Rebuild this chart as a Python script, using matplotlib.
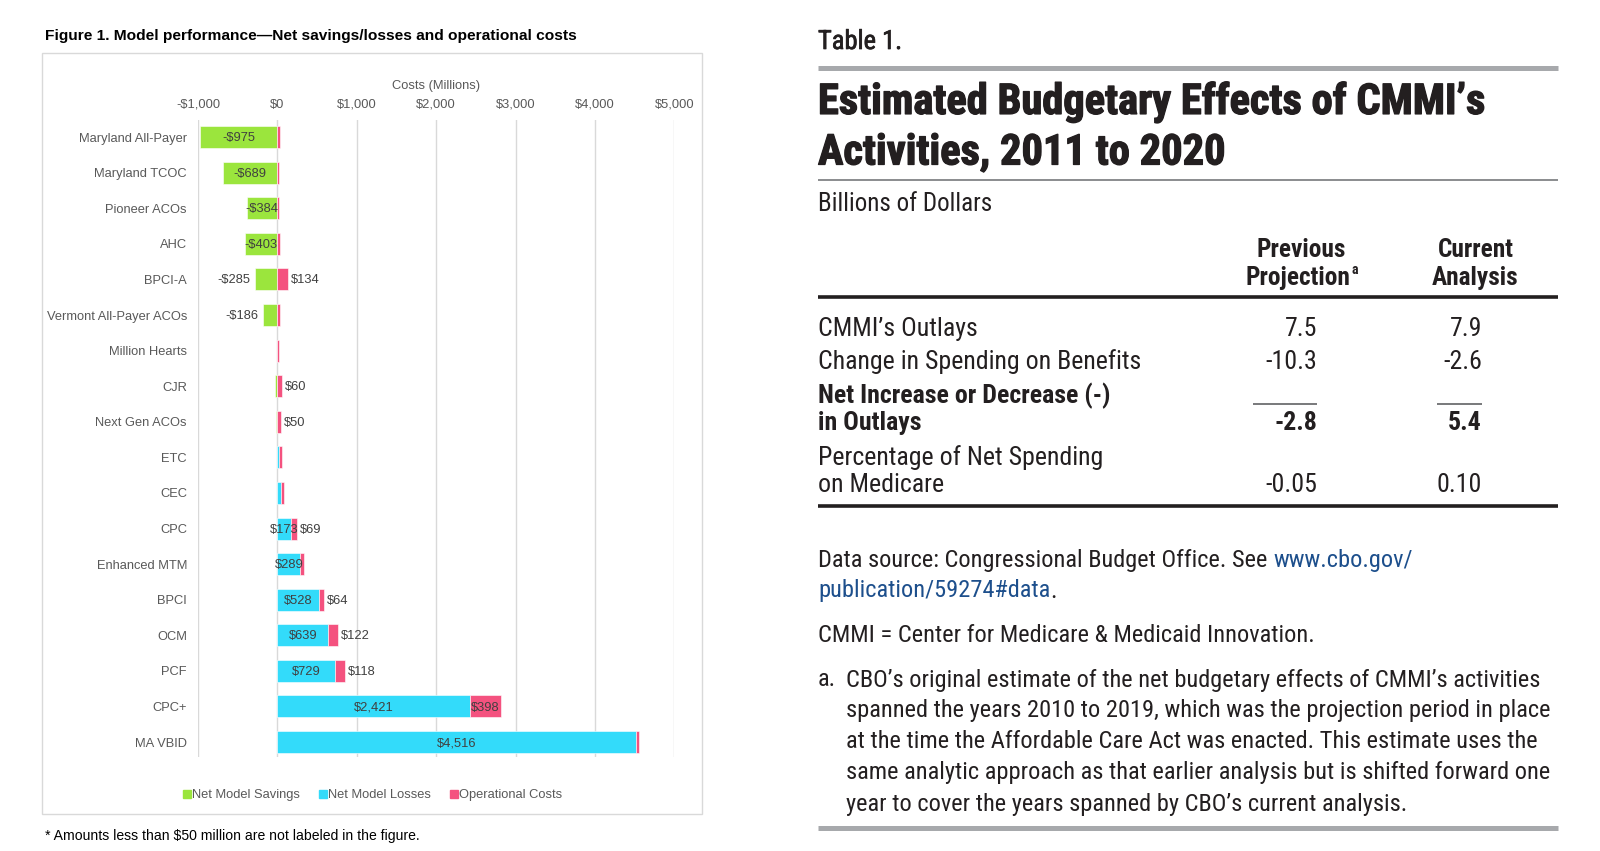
import matplotlib
matplotlib.use('Agg')
import matplotlib.pyplot as plt
from matplotlib import font_manager
from matplotlib.lines import Line2D
from matplotlib.patches import Rectangle
import matplotlib.patheffects as pe

W, H = 1600, 851

# chart data (millions of dollars)
categories = ["Maryland All-Payer", "Maryland TCOC", "Pioneer ACOs", "AHC", "BPCI-A",
              "Vermont All-Payer ACOs", "Million Hearts", "CJR", "Next Gen ACOs", "ETC",
              "CEC", "CPC", "Enhanced MTM", "BPCI", "OCM", "PCF", "CPC+", "MA VBID"]
savings = [-975, -689, -384, -403, -285, -186, 0, -30, -20, 0, 0, 0, 0, 0, 0, 0, 0, 0]
losses = [0, 0, 0, 0, 0, 0, 0, 0, 0, 25, 40, 173, 289, 528, 639, 729, 2421, 4516]
op_costs = [30, 20, 20, 35, 134, 30, 20, 60, 50, 35, 45, 69, 40, 64, 122, 118, 398, 35]
tick_values = [-1000, 0, 1000, 2000, 3000, 4000, 5000]
tick_labels = ["-$1,000", "$0", "$1,000", "$2,000", "$3,000", "$4,000", "$5,000"]

# table data (billions of dollars)
row_labels = [["CMMI’s Outlays"], ["Change in Spending on Benefits"],
              ["Net Increase or Decrease (-)", "in Outlays"],
              ["Percentage of Net Spending", "on Medicare"]]
previous = ["7.5", "-10.3", "-2.8", "-0.05"]
current = ["7.9", "-2.6", "5.4", "0.10"]

GREEN = '#9be53d'
BLUE = '#33dbfa'
PINK = '#f4527f'
INK = '#231f20'


def pick(fams):
    for f in fams:
        try:
            font_manager.findfont(font_manager.FontProperties(family=f), fallback_to_default=False)
            return f
        except Exception:
            pass
    return 'DejaVu Sans'


ARIAL = pick(['Liberation Sans', 'Arial', 'DejaVu Sans'])
NARROW = pick(['Liberation Sans Narrow', 'Roboto Condensed', 'Roboto'])

fig = plt.figure(figsize=(W / 100, H / 100), dpi=100)
renderer = fig.canvas.get_renderer()


def put(x, y, s, **kw):
    return fig.text(x / W, 1 - y / H, s, **kw)


def width_of(s, size, **kw):
    t = fig.text(0, 0, s, fontsize=size, **kw)
    w = t.get_window_extent(renderer).width
    t.remove()
    return w


def fit(s, target, **kw):
    return 20 * target / width_of(s, 20, **kw)


def hline(x0, x1, y, lw, color):
    fig.add_artist(Line2D([x0 / W, x1 / W], [1 - y / H, 1 - y / H], lw=lw, color=color,
                          solid_capstyle='butt'))


def money(v):
    return ('-' if v < 0 else '') + '$' + f'{abs(v):,}'


# ---------------- left: bar chart ----------------
FS = 9.3
fig.add_artist(Rectangle((42 / W, 1 - 814 / H), 660 / W, 761 / H, transform=fig.transFigure,
                         fill=False, edgecolor='#d9d9d9', lw=1))
put(45, 36, "Figure 1. Model performance—Net savings/losses and operational costs",
    family=ARIAL, weight='bold', va='center',
    fontsize=fit("Figure 1. Model performance—Net savings/losses and operational costs", 530,
                 family=ARIAL, weight='bold'))

ax = fig.add_axes([198 / W, 1 - 757 / H, 476.5 / W, 637 / H])
y = list(range(len(categories)))
bh = 0.62
ax.barh(y, savings, height=bh, color=GREEN, edgecolor='white', lw=0.4)
ax.barh(y, losses, height=bh, color=BLUE, edgecolor='white', lw=0.4)
ax.barh(y, op_costs, left=losses, height=bh, color=PINK, edgecolor='white', lw=0.4)
ax.set_xlim(-1000, 5000)
ax.set_ylim(len(categories) - 0.58, -0.48)
ax.set_xticks(tick_values)
ax.set_xticklabels(tick_labels)
ax.xaxis.tick_top()
ax.set_yticks(y)
ax.set_yticklabels(categories)
ax.tick_params(axis='x', length=0, pad=6.5, labelsize=FS, labelcolor='#595959')
ax.tick_params(axis='y', length=0, pad=8, labelsize=FS, labelcolor='#595959')
for lab in ax.get_xticklabels() + ax.get_yticklabels():
    lab.set_family(ARIAL)
ax.grid(axis='x', color='#d9d9d9', lw=1)
ax.set_axisbelow(True)
for s in ax.spines.values():
    s.set_visible(False)

lab_kw = dict(fontsize=FS, color='#404040', family=ARIAL, va='center')
for i in y:
    s, l, o = savings[i], losses[i], op_costs[i]
    if abs(s) >= 350:
        ax.text(s / 2, i + 0.03, money(s), ha='center', **lab_kw)
    elif abs(s) >= 50:
        ax.annotate(money(s), (s, i + 0.03), xytext=(-3, 0), textcoords='offset points', ha='right', **lab_kw)
    if l >= 50:
        ax.text(l / 2, i + 0.03, money(l), ha='center', **lab_kw)
    if o >= 300:
        ax.text(l + o / 2, i + 0.03, money(o), ha='center', **lab_kw)
    elif o >= 50:
        ax.annotate(money(o), (l + o, i + 0.03), xytext=(2, 0), textcoords='offset points', ha='left', **lab_kw)

put(436, 86, "Costs (Millions)", family=ARIAL, fontsize=FS, color='#595959', ha='center', va='center')

handles = [Line2D([], [], marker='s', ls='none', markersize=6, color=c) for c in (GREEN, BLUE, PINK)]
leg = fig.legend(handles, ["Net Model Savings", "Net Model Losses", "Operational Costs"],
                 loc='center', bbox_to_anchor=(373 / W, 1 - 795 / H), ncol=3, frameon=False,
                 handlelength=0.5, handletextpad=0.15, columnspacing=1.5,
                 prop={'family': ARIAL, 'size': FS})
for t in leg.get_texts():
    t.set_color('#595959')

foot = "* Amounts less than $50 million are not labeled in the figure."
put(45, 836, foot, family=ARIAL, va='center', color='black',
    fontsize=fit(foot, 373, family=ARIAL))

# ---------------- right: table ----------------
X0, X1 = 818, 1558
put(X0, 42, "Table 1.", family=NARROW, va='center', color=INK,
    fontsize=fit("Table 1.", 84, family=NARROW),
    path_effects=[pe.withStroke(linewidth=0.5, foreground=INK)])
hline(X0, X1, 68, 3.6, '#a7a9ac')

title_lines = ["Estimated Budgetary Effects of CMMI’s", "Activities, 2011 to 2020"]
tsize = fit(title_lines[0], 666, family=NARROW, weight='bold')
for ty, s in zip([102, 153], title_lines):
    put(X0, ty, s, family=NARROW, weight='bold', fontsize=tsize, va='center', color=INK,
        path_effects=[pe.withStroke(linewidth=0.9, foreground=INK)])
hline(X0, X1, 180, 1.4, '#8a8c8e')

put(X0, 204, "Billions of Dollars", family=NARROW, va='center', color=INK,
    fontsize=fit("Billions of Dollars", 175, family=NARROW))

hsize = fit("Analysis", 87, family=NARROW, weight='bold')
hk = dict(family=NARROW, weight='bold', fontsize=hsize, va='center', ha='center', color=INK)
put(1301, 250, "Previous", **hk)
put(1298, 278, "Projection", **hk)
pw = width_of("Projection", hsize, family=NARROW, weight='bold')
put(1298 + pw / 2 + 1.5, 270, "a", family=NARROW, weight='bold', fontsize=hsize * 0.55,
    va='center', ha='left', color=INK)
put(1476, 250, "Current", **hk)
put(1475, 278, "Analysis", **hk)
hline(X0, X1, 297, 2.6, INK)

rsize = fit("Change in Spending on Benefits", 324, family=NARROW)
row_y = [[329], [362], [396, 423], [458, 485]]
for k, (lines, ys) in enumerate(zip(row_labels, row_y)):
    bold = k == 2
    rk = dict(family=NARROW, fontsize=rsize, va='center', color=INK,
              weight='bold' if bold else 'normal')
    for s, ty in zip(lines, ys):
        put(X0, ty, s, **rk)
    put(1317, ys[-1], previous[k], ha='right', **rk)
    put(1482, ys[-1], current[k], ha='right', **rk)
hline(1253, 1317, 404, 1.3, '#6d6e71')
hline(1437, 1482, 404, 1.3, '#6d6e71')
hline(X0, X1, 506, 2.6, INK)

LINK = '#1d4f8c'
nsize = fit("spanned the years 2010 to 2019, which was the projection period in place", 703,
            family=NARROW)
nk = dict(family=NARROW, fontsize=nsize, va='center')
sp = width_of("a a", nsize, family=NARROW) - width_of("aa", nsize, family=NARROW)
first = "Data source: Congressional Budget Office. See"
put(X0, 560, first, color=INK, **nk)
put(X0 + width_of(first, nsize, family=NARROW) + sp, 560, "www.cbo.gov/", color=LINK, **nk)
put(X0, 591, "publication/59274#data", color=LINK, **nk)
put(X0 + width_of("publication/59274#data", nsize, family=NARROW), 591, ".", color=INK, **nk)
put(X0, 635, "CMMI = Center for Medicare & Medicaid Innovation.", color=INK, **nk)

note_lines = ["CBO’s original estimate of the net budgetary effects of CMMI’s activities",
              "spanned the years 2010 to 2019, which was the projection period in place",
              "at the time the Affordable Care Act was enacted. This estimate uses the",
              "same analytic approach as that earlier analysis but is shifted forward one",
              "year to cover the years spanned by CBO’s current analysis."]
put(X0, 680, "a.", color=INK, **nk)
for ty, s in zip([680, 711, 742, 773, 804], note_lines):
    put(846, ty, s, color=INK, **nk)
hline(X0, X1, 828, 3.6, '#a7a9ac')

fig.savefig('out.png', dpi=100, facecolor='white')
